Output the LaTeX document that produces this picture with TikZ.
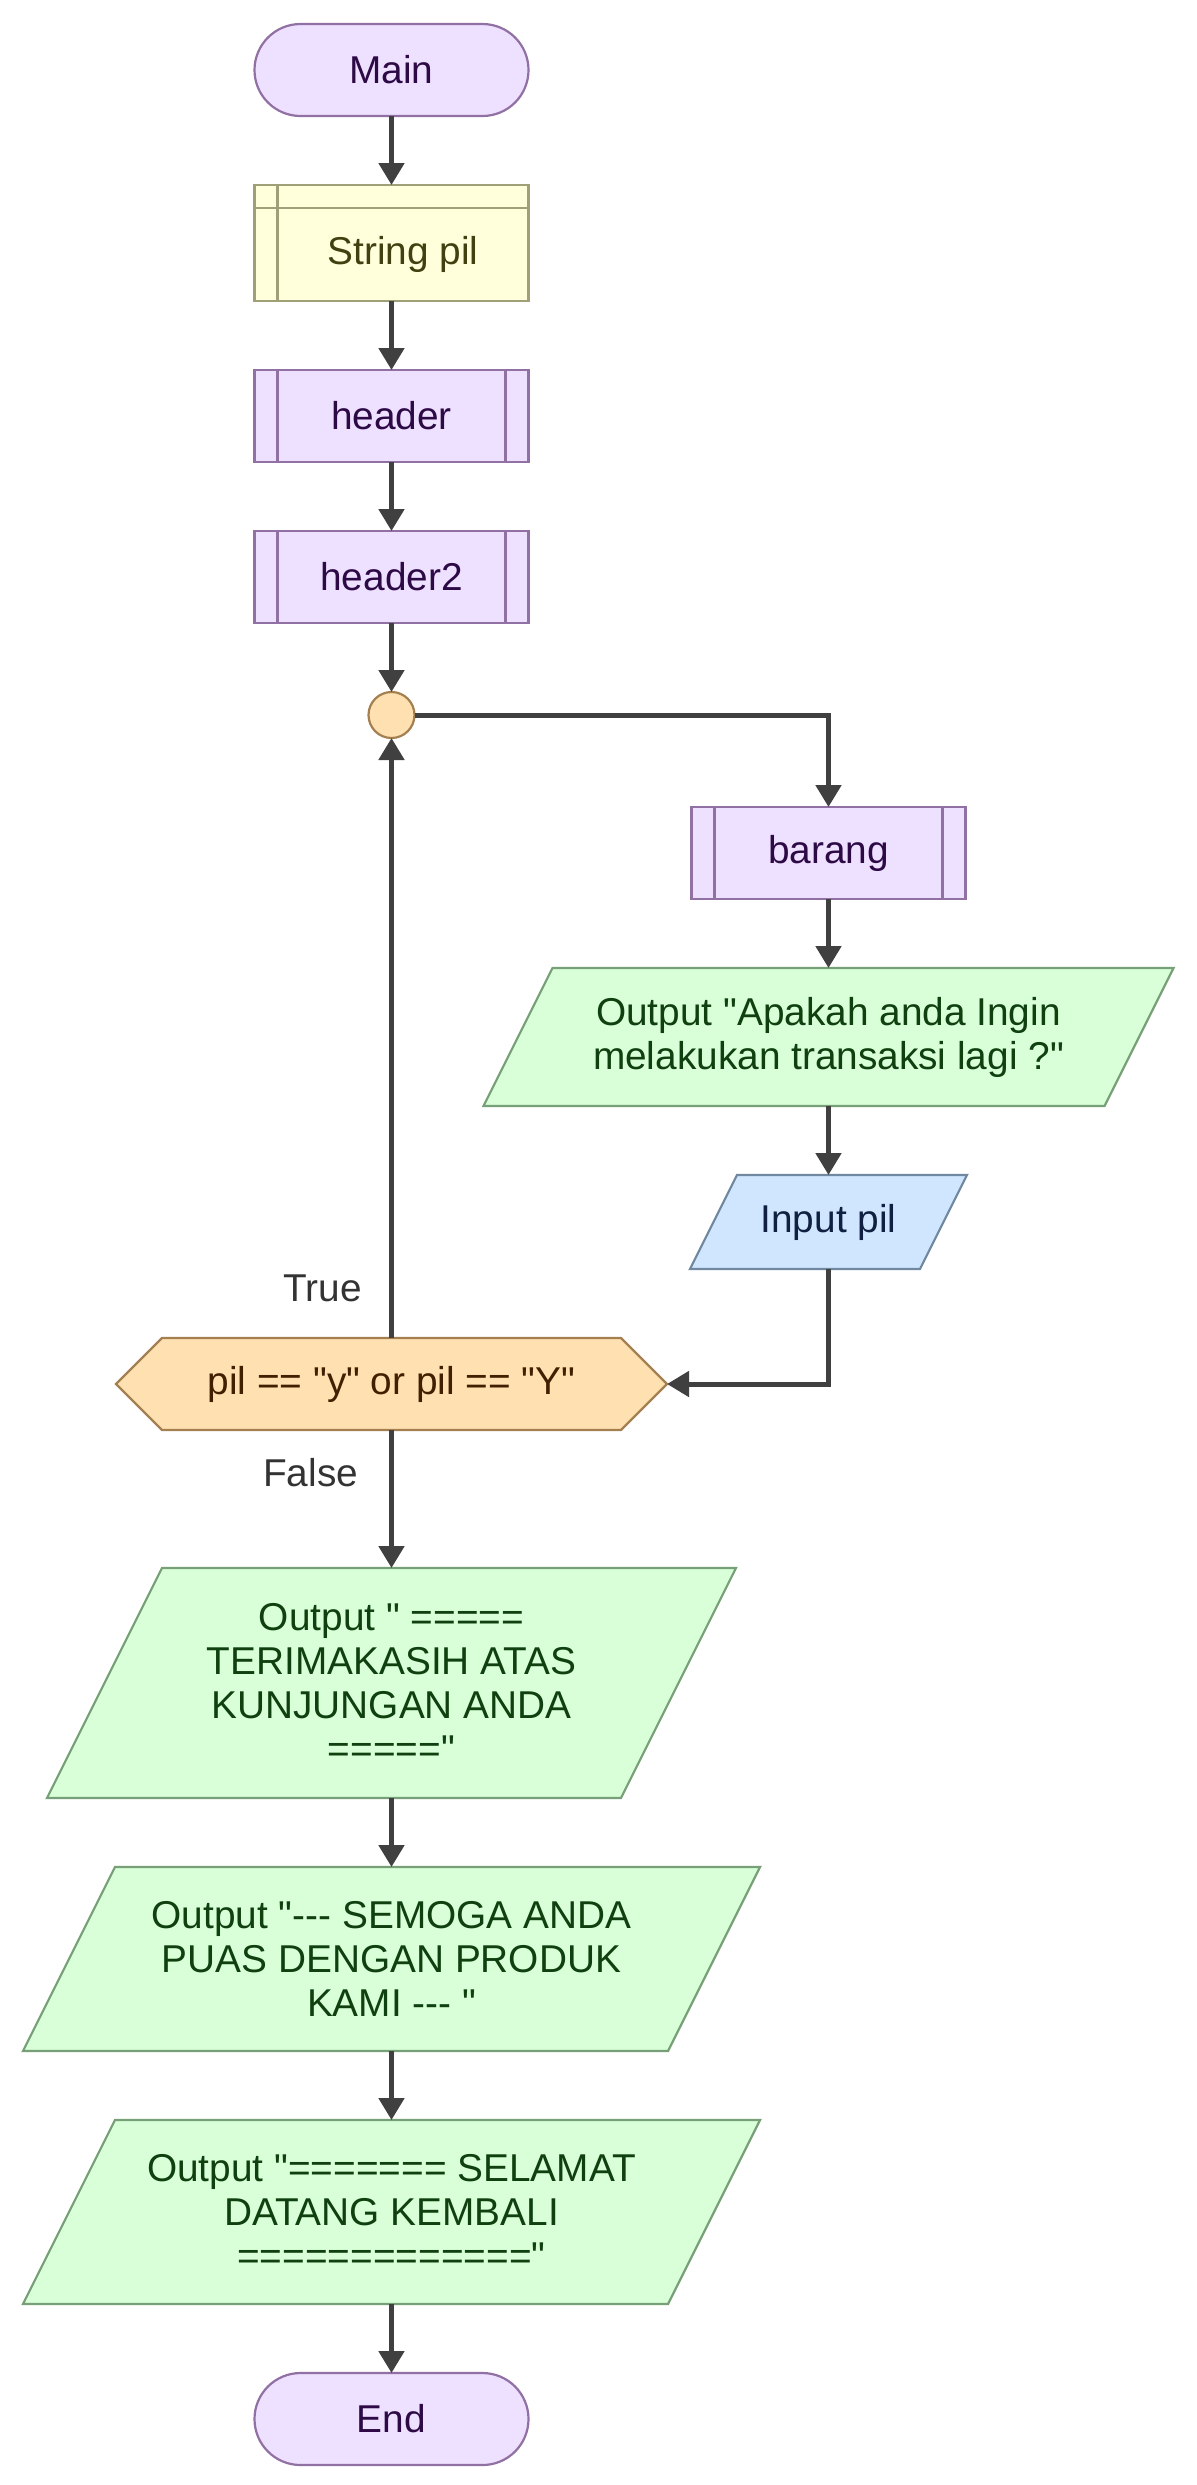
\documentclass[tikz,border=0pt]{standalone}
\usepackage{fontspec}
\newfontfamily\flowfont{Liberation Sans}
\usepackage{tikz}
\usetikzlibrary{shapes,arrows.meta,positioning,backgrounds}

\definecolor{termfill}{RGB}{238,224,255}
\definecolor{termline}{RGB}{145,112,163}
\definecolor{termtext}{RGB}{45,10,70}
\definecolor{storefill}{RGB}{255,255,220}
\definecolor{storeline}{RGB}{160,160,120}
\definecolor{storetext}{RGB}{64,64,16}
\definecolor{condfill}{RGB}{255,224,176}
\definecolor{condline}{RGB}{164,128,80}
\definecolor{condtext}{RGB}{64,32,0}
\definecolor{outfill}{RGB}{216,255,216}
\definecolor{outline}{RGB}{120,160,120}
\definecolor{outtext}{RGB}{16,64,16}
\definecolor{infill}{RGB}{208,230,255}
\definecolor{inline}{RGB}{112,136,160}
\definecolor{intext}{RGB}{16,32,64}
\definecolor{arrowgray}{RGB}{64,64,64}
\definecolor{lbltext}{RGB}{51,51,51}

\begin{document}
\begin{tikzpicture}[
  node distance=34.5pt,
  every node/.style={font=\flowfont\fontsize{19.4}{22}\selectfont, align=center, outer sep=0pt},
  terminal/.style={rectangle, rounded corners=23pt, draw=termline, fill=termfill, text=termtext, line width=1.1pt, minimum width=137pt, minimum height=46pt},
  subproc/.style={rectangle, draw=termline, fill=termfill, text=termtext, line width=1.1pt, minimum width=137pt, minimum height=46pt,
    path picture={
      \draw[termline, line width=1.1pt] ([xshift=11.5pt]path picture bounding box.north west) -- ([xshift=11.5pt]path picture bounding box.south west);
      \draw[termline, line width=1.1pt] ([xshift=-11.5pt]path picture bounding box.north east) -- ([xshift=-11.5pt]path picture bounding box.south east);}},
  storebox/.style={rectangle, draw=storeline, fill=storefill, line width=1.1pt, minimum width=137pt, minimum height=58pt,
    path picture={
      \draw[storeline, line width=1.1pt] ([xshift=11.5pt]path picture bounding box.north west) -- ([xshift=11.5pt]path picture bounding box.south west);
      \draw[storeline, line width=1.1pt] ([yshift=-11.5pt]path picture bounding box.north west) -- ([yshift=-11.5pt]path picture bounding box.north east);}},
  junction/.style={circle, draw=condline, fill=condfill, line width=1.1pt, minimum size=23pt, inner sep=0pt},
  decision/.style={signal, signal to=west and east, signal pointer angle=90, draw=condline, fill=condfill, text=condtext, line width=1.1pt, minimum width=275.5pt, minimum height=46pt},
  outbox/.style={rectangle, text=outtext},
  inbox/.style={rectangle, text=intext},
  outshape/.style={draw=outline, fill=outfill, line width=1.1pt},
  inshape/.style={draw=inline, fill=infill, line width=1.1pt},
  edgelbl/.style={text=lbltext, inner sep=0pt, anchor=east},
  arrow/.style={-{Triangle[length=11pt, width=12.5pt]}, line width=2.5pt, arrowgray}
]
  \useasboundingbox (0,0) rectangle (598.5pt,-1242.5pt);

  % Start and setup
  \node[terminal] (main) at (195.75pt,-35pt) {Main};
  \node[storebox, below=of main, label={[storetext, shift={(5.75pt,-5.75pt)}]center:String pil}] (strpil) {};
  \node[subproc, below=of strpil] (header) {header};
  \node[subproc, below=of header] (header2) {header2};
  \node[junction, below=of header2] (loop) {};

  % Loop body
  \node[subproc, below=of loop, xshift=218.5pt] (barang) {barang};
  \node[outbox, below=of barang, minimum width=345pt, minimum height=69pt] (ask) {Output "Apakah anda Ingin\\melakukan transaksi lagi ?"};
  \node[inbox, below=of ask, minimum width=138.5pt, minimum height=47pt] (inpil) {Input pil};

  % Condition
  \node[decision, below=of inpil, xshift=-218.5pt] (cond) {pil == "y" or pil == "Y"};

  % Closing outputs
  \node[outbox, below=69pt of cond, minimum width=344.5pt, minimum height=115pt] (thanks) {Output " =====\\TERIMAKASIH ATAS\\KUNJUNGAN ANDA\\====="};
  \node[outbox, below=of thanks, minimum width=368.5pt, minimum height=92pt] (puas) {Output "--- SEMOGA ANDA\\PUAS DENGAN PRODUK\\KAMI --- "};
  \node[outbox, below=of puas, minimum width=368.5pt, minimum height=92pt] (bye) {Output "======= SELAMAT\\DATANG KEMBALI\\============="};
  \node[terminal, below=of bye] (end) {End};

  % Input / output parallelograms
  \begin{scope}[on background layer]
    \draw[outshape] (ask.south west) -- ([xshift=34.5pt]ask.north west) -- (ask.north east) -- ([xshift=-34.5pt]ask.south east) -- cycle;
    \draw[inshape] (inpil.south west) -- ([xshift=23.5pt]inpil.north west) -- (inpil.north east) -- ([xshift=-23.5pt]inpil.south east) -- cycle;
    \draw[outshape] (thanks.south west) -- ([xshift=57.5pt]thanks.north west) -- (thanks.north east) -- ([xshift=-57.5pt]thanks.south east) -- cycle;
    \draw[outshape] (puas.south west) -- ([xshift=46pt]puas.north west) -- (puas.north east) -- ([xshift=-46pt]puas.south east) -- cycle;
    \draw[outshape] (bye.south west) -- ([xshift=46pt]bye.north west) -- (bye.north east) -- ([xshift=-46pt]bye.south east) -- cycle;
  \end{scope}

  % Arrows
  \draw[arrow] (main) -- (strpil);
  \draw[arrow] (strpil) -- (header);
  \draw[arrow] (header) -- (header2);
  \draw[arrow] (header2) -- (loop);
  \draw[arrow] (loop) -| (barang);
  \draw[arrow] (barang) -- (ask);
  \draw[arrow] (ask) -- (inpil);
  \draw[arrow] (inpil) |- (cond);
  \draw[arrow] (cond) -- node[edgelbl, pos=0.082, xshift=-14.75pt] {True} (loop);
  \draw[arrow] (cond) -- node[edgelbl, pos=0.31, xshift=-16.75pt] {False} (thanks);
  \draw[arrow] (thanks) -- (puas);
  \draw[arrow] (puas) -- (bye);
  \draw[arrow] (bye) -- (end);
\end{tikzpicture}
\end{document}
